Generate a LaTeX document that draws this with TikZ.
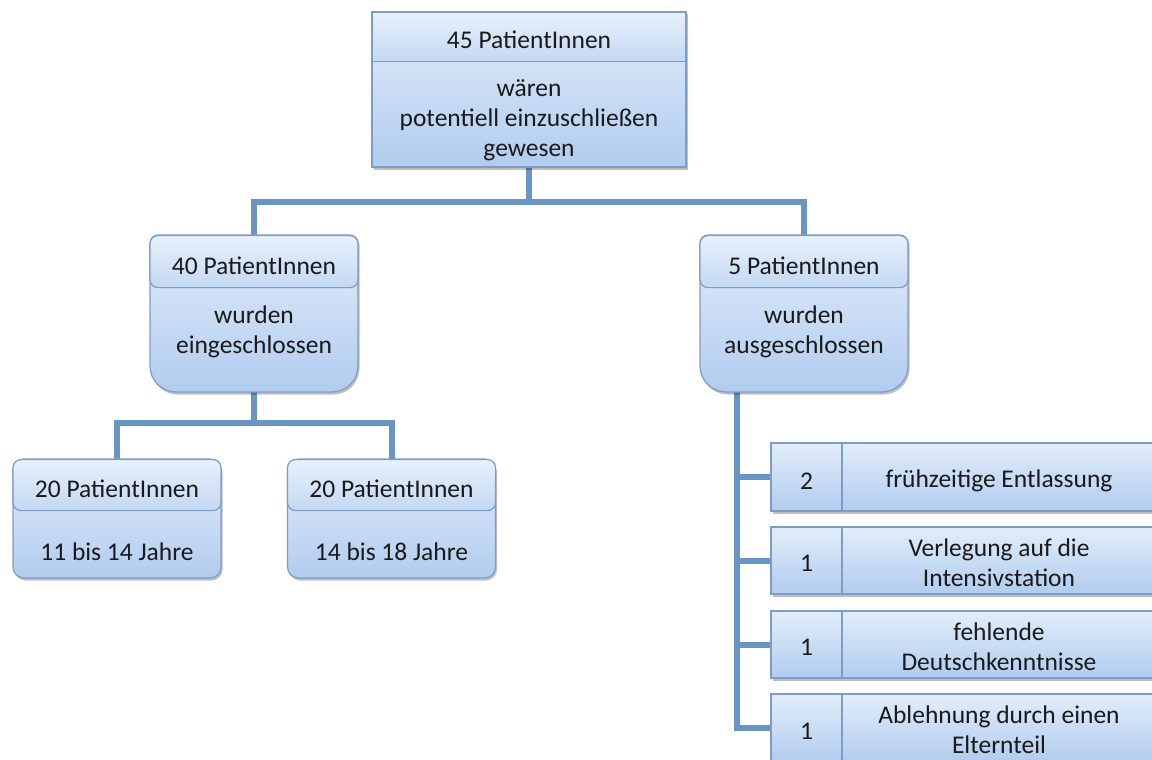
\documentclass[tikz,border=0pt]{standalone}
\usepackage{fontspec}
\setmainfont{Carlito}
\usetikzlibrary{shadows,backgrounds}
\definecolor{bord}{HTML}{7E9DC6}
\definecolor{topc}{HTML}{E2EDFA}
\definecolor{botc}{HTML}{B1CCEF}
\definecolor{hdtop}{HTML}{E8F1FB}
\definecolor{hdbot}{HTML}{C3D8F2}
\definecolor{linkc}{HTML}{6A95C3}
\definecolor{ink}{HTML}{1A1A1A}
\tikzset{
  every node/.style={font=\fontsize{25.5}{30}\selectfont, text=ink},
  frame/.style={draw=bord, line width=1.2pt, top color=topc, bottom color=botc,
    drop shadow={shadow xshift=1.5pt, shadow yshift=-2.5pt, opacity=0.25, fill=black}},
  hdr/.style={draw=bord, line width=1.2pt, top color=hdtop, bottom color=hdbot},
  linkline/.style={draw=linkc, line width=6pt},
  ghost/.style={inner sep=0pt, outer sep=0pt, draw=none, fill=none},
  txt/.style={align=center, inner sep=0pt},
}
\begin{document}
\begin{tikzpicture}[x=1pt,y=-1pt]
\useasboundingbox (0,0) rectangle (1152,760);
% ---------- box geometry (ghost nodes) ----------
\node[ghost, minimum width=314pt, minimum height=155pt] (top) at (529,89.5) {};
\node[ghost, minimum width=208pt, minimum height=157pt] (L) at (254,313.5) {};
\node[ghost, minimum width=208pt, minimum height=157pt] (R) at (804,313.5) {};
\node[ghost, minimum width=208pt, minimum height=119pt] (B1) at (117,518.5) {};
\node[ghost, minimum width=208pt, minimum height=119pt] (B2) at (391.5,518.5) {};
% ---------- connectors (behind) ----------
\begin{scope}[on background layer]
  \draw[linkline] (top.south) -- ++(0,35) coordinate (j1);
  \draw[linkline] (L.north) |- (j1) -| (R.north);
  \draw[linkline] (L.south) -- ++(0,31) coordinate (j2);
  \draw[linkline] (B1.north) |- (j2) -| (B2.north);
\end{scope}
% ---------- top box ----------
\path[frame] (top.north west) rectangle (top.south east);
\node[hdr, minimum width=314pt, minimum height=49pt, anchor=north] (toph) at (top.north) {};
\node[txt] (tophl) at ([yshift=-3pt]toph.center) {45 PatientInnen};
\node[txt] (topt) at (529,120) {wären\\potentiell einzuschließen\\gewesen};
% ---------- middle boxes ----------
\path[frame] (L.west) [rounded corners=8pt] -- (L.north west) -- (L.north east) -- (L.east)
   [rounded corners=26pt] -- (L.south east) -- (L.south west) -- cycle;
\node[hdr, rounded corners=8pt, minimum width=208pt, minimum height=52pt, anchor=north] (Lh) at (L.north) {};
\node[txt] (Lhl) at ([yshift=-4pt]Lh.center) {40 PatientInnen};
\node[txt] (Lt) at (254,332) {wurden\\eingeschlossen};
\path[frame] (R.west) [rounded corners=8pt] -- (R.north west) -- (R.north east) -- (R.east)
   [rounded corners=26pt] -- (R.south east) -- (R.south west) -- cycle;
\node[hdr, rounded corners=8pt, minimum width=208pt, minimum height=52pt, anchor=north] (Rh) at (R.north) {};
\node[txt] (Rhl) at ([yshift=-4pt]Rh.center) {5 PatientInnen};
\node[txt] (Rt) at (804,332) {wurden\\ausgeschlossen};
% ---------- bottom-left boxes ----------
\path[frame, rounded corners=11pt] (B1.north west) rectangle (B1.south east);
\node[hdr, rounded corners=8pt, minimum width=208pt, minimum height=51pt, anchor=north] (B1h) at (B1.north) {};
\node[txt] (B1hl) at ([yshift=-4pt]B1h.center) {20 PatientInnen};
\node[txt] (B1t) at (117,552) {11 bis 14 Jahre};
\path[frame, rounded corners=11pt] (B2.north west) rectangle (B2.south east);
\node[hdr, rounded corners=8pt, minimum width=208pt, minimum height=51pt, anchor=north] (B2h) at (B2.north) {};
\node[txt] (B2hl) at ([yshift=-4pt]B2h.center) {20 PatientInnen};
\node[txt] (B2t) at (391.5,552) {14 bis 18 Jahre};
% ---------- exclusion list ----------
\node[frame, minimum width=71pt, minimum height=68pt, inner sep=0pt] (n1) at (806.5,477) {};
\node[frame, minimum width=314pt, minimum height=68pt, inner sep=0pt] (t1) at (999,477) {};
\node[frame, minimum width=71pt, minimum height=67pt, inner sep=0pt] (n2) at (806.5,560.5) {};
\node[frame, minimum width=314pt, minimum height=67pt, inner sep=0pt] (t2) at (999,560.5) {};
\node[frame, minimum width=71pt, minimum height=67pt, inner sep=0pt] (n3) at (806.5,644.5) {};
\node[frame, minimum width=314pt, minimum height=67pt, inner sep=0pt] (t3) at (999,644.5) {};
\node[frame, minimum width=71pt, minimum height=68pt, inner sep=0pt] (n4) at (806.5,728) {};
\node[frame, minimum width=314pt, minimum height=68pt, inner sep=0pt] (t4) at (999,728) {};
\node[txt] (n1l) at ([yshift=-4pt]n1.center) {2};
\node[txt] (t1l) at ([yshift=-4pt]t1.center) {frühzeitige Entlassung};
\node[txt] (n2l) at ([yshift=-3pt]n2.center) {1};
\node[txt] (t2l) at ([yshift=-2pt]t2.center) {Verlegung auf die\\Intensivstation};
\node[txt] (n3l) at ([yshift=-3pt]n3.center) {1};
\node[txt] (t3l) at ([yshift=-2pt]t3.center) {fehlende\\Deutschkenntnisse};
\node[txt] (n4l) at ([yshift=-3pt]n4.center) {1};
\node[txt] (t4l) at ([yshift=-2pt]t4.center) {Ablehnung durch einen\\Elternteil};
\begin{scope}[on background layer]
  \coordinate (rv) at ([xshift=37pt]R.south west);
  \draw[linkline] (rv) |- (n4.west);
  \draw[linkline] (rv |- n1.west) -- (n1.west);
  \draw[linkline] (rv |- n2.west) -- (n2.west);
  \draw[linkline] (rv |- n3.west) -- (n3.west);
\end{scope}
\end{tikzpicture}
\end{document}
